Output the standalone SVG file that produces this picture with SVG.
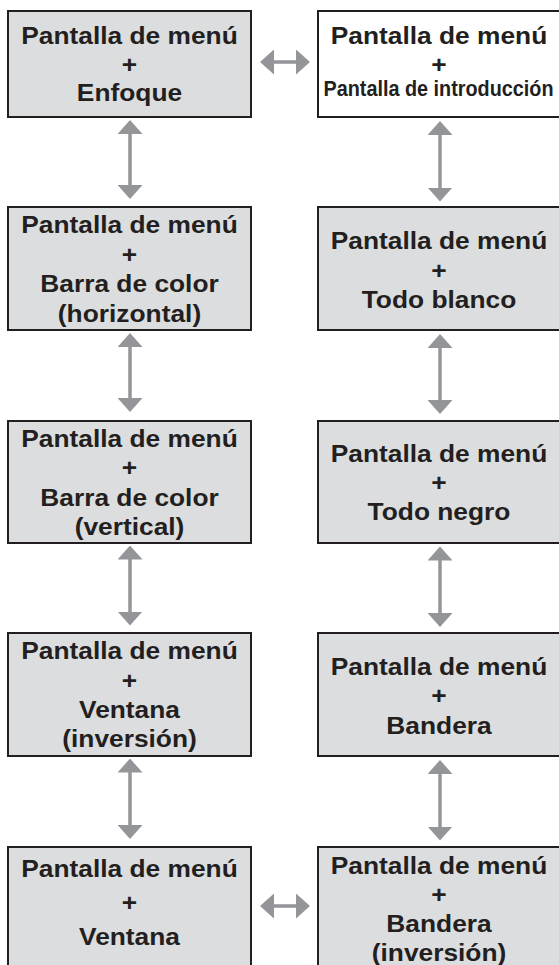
<svg xmlns="http://www.w3.org/2000/svg" width="559" height="965" viewBox="0 0 559 965">
<style>
.box{fill:#dcdddf;stroke:#231f20;stroke-width:2}
.white{fill:#ffffff}
.t{font-family:"Liberation Sans",Arial,Helvetica,sans-serif;font-weight:bold;font-size:24.5px;fill:#231f20;text-anchor:middle}
.small{font-size:22px}
.arr{stroke:#939598;stroke-width:3.5;fill:none;marker-start:url(#ah);marker-end:url(#ah)}
</style>
<defs>
<marker id="ah" viewBox="0 0 14 25" refX="1" refY="12.5" markerWidth="14" markerHeight="25" markerUnits="userSpaceOnUse" orient="auto-start-reverse">
<path d="M0,0 L14,12.5 L0,25 Z" fill="#939598"/>
</marker>
</defs>
<rect width="559" height="965" fill="#ffffff"/>
<g id="connectors">
<line class="arr" x1="130" y1="133" x2="130" y2="186"/>
<line class="arr" x1="130" y1="346" x2="130" y2="399"/>
<line class="arr" x1="130" y1="558.5" x2="130" y2="612.5"/>
<line class="arr" x1="130" y1="771.5" x2="130" y2="826"/>
<line class="arr" x1="440" y1="134" x2="440" y2="188.5"/>
<line class="arr" x1="440" y1="347" x2="440" y2="401"/>
<line class="arr" x1="440" y1="559.5" x2="440" y2="614"/>
<line class="arr" x1="440" y1="773" x2="440" y2="827.5"/>
<line class="arr" x1="273" y1="62" x2="297" y2="62"/>
<line class="arr" x1="273" y1="906" x2="297" y2="906"/>
</g>
<g id="node-l1">
<rect class="box" x="8" y="11" width="243" height="106"/>
<g transform="translate(129.5 0) scale(1.075 1)">
<text class="t" x="0" y="44.3">Pantalla de menú</text>
<text class="t" x="0" y="72.7">+</text>
<text class="t" x="0" y="101">Enfoque</text>
</g>
</g>
<g id="node-r1">
<rect class="box white" x="318" y="11" width="243" height="106"/>
<g transform="translate(439 0) scale(1.075 1)">
<text class="t" x="0" y="44.3">Pantalla de menú</text>
<text class="t" x="0" y="72.7">+</text>
</g>
<text class="t small" x="438.5" y="95.5" textLength="230" lengthAdjust="spacingAndGlyphs">Pantalla de introducción</text>
</g>
<g id="node-l2">
<rect class="box" x="8" y="207" width="243" height="123"/>
<g transform="translate(129.5 0) scale(1.075 1)">
<text class="t" x="0" y="233.5">Pantalla de menú</text>
<text class="t" x="0" y="263">+</text>
<text class="t" x="0" y="292.5">Barra de color</text>
<text class="t" x="0" y="322">(horizontal)</text>
</g>
</g>
<g id="node-r2">
<rect class="box" x="318" y="207" width="243" height="123"/>
<g transform="translate(439 0) scale(1.075 1)">
<text class="t" x="0" y="249">Pantalla de menú</text>
<text class="t" x="0" y="278.6">+</text>
<text class="t" x="0" y="308.3">Todo blanco</text>
</g>
</g>
<g id="node-l3">
<rect class="box" x="8" y="421" width="243" height="122"/>
<g transform="translate(129.5 0) scale(1.075 1)">
<text class="t" x="0" y="447">Pantalla de menú</text>
<text class="t" x="0" y="476.3">+</text>
<text class="t" x="0" y="505.6">Barra de color</text>
<text class="t" x="0" y="535">(vertical)</text>
</g>
</g>
<g id="node-r3">
<rect class="box" x="318" y="421" width="243" height="122"/>
<g transform="translate(439 0) scale(1.075 1)">
<text class="t" x="0" y="462.3">Pantalla de menú</text>
<text class="t" x="0" y="491.2">+</text>
<text class="t" x="0" y="520">Todo negro</text>
</g>
</g>
<g id="node-l4">
<rect class="box" x="8" y="633" width="243" height="123"/>
<g transform="translate(129.5 0) scale(1.075 1)">
<text class="t" x="0" y="659.3">Pantalla de menú</text>
<text class="t" x="0" y="688.6">+</text>
<text class="t" x="0" y="717.9">Ventana</text>
<text class="t" x="0" y="747.2">(inversión)</text>
</g>
</g>
<g id="node-r4">
<rect class="box" x="318" y="633" width="243" height="123"/>
<g transform="translate(439 0) scale(1.075 1)">
<text class="t" x="0" y="675">Pantalla de menú</text>
<text class="t" x="0" y="704.5">+</text>
<text class="t" x="0" y="734">Bandera</text>
</g>
</g>
<g id="node-l5">
<rect class="box" x="8" y="847" width="243" height="123"/>
<g transform="translate(129.5 0) scale(1.075 1)">
<text class="t" x="0" y="876.7">Pantalla de menú</text>
<text class="t" x="0" y="910.8">+</text>
<text class="t" x="0" y="945">Ventana</text>
</g>
</g>
<g id="node-r5">
<rect class="box" x="318" y="847" width="243" height="123"/>
<g transform="translate(439 0) scale(1.075 1)">
<text class="t" x="0" y="874">Pantalla de menú</text>
<text class="t" x="0" y="903">+</text>
<text class="t" x="0" y="932">Bandera</text>
<text class="t" x="0" y="961">(inversión)</text>
</g>
</g>
</svg>
